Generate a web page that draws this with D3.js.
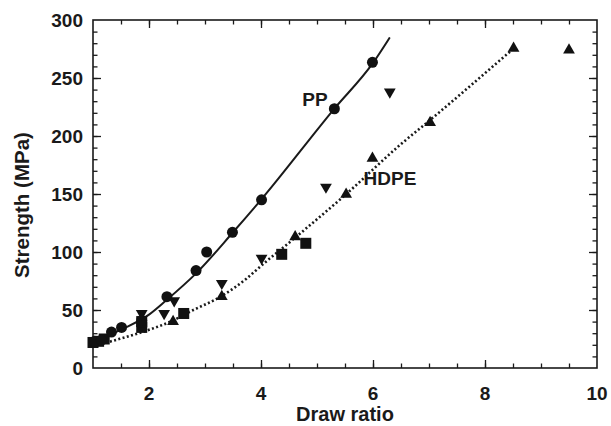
<!DOCTYPE html>
<html>
<head>
<meta charset="utf-8">
<script src="https://cdn.jsdelivr.net/npm/d3@7"></script>
<style>
  body { margin: 0; background: #fff; }
  text { font-family: "Liberation Sans", Arial, sans-serif; font-weight: bold; fill: #1a1a1a; }
</style>
</head>
<body>
<svg id="chart" width="611" height="426"></svg>
<script>
// measured points
var ppCircles = [[1.03, 23], [1.15, 24], [1.33, 31], [1.51, 35], [1.87, 41], [2.32, 61.5],
    [2.84, 84], [3.03, 100], [3.49, 117], [4.01, 145], [5.31, 223.5], [5.99, 263.5]];
var squares = [[1.0, 22], [1.1, 23], [1.2, 25], [1.87, 35], [1.87, 40], [2.62, 47],
    [4.37, 98], [4.80, 107.5]];
var trianglesDown = [[1.87, 47], [2.27, 47], [2.45, 58], [3.30, 73], [4.01, 94.6],
    [5.16, 156], [6.30, 238]];
var trianglesUp = [[2.43, 40], [3.30, 61.5], [4.61, 113], [5.52, 149.7], [5.99, 180.7],
    [7.02, 211.5], [8.51, 275.6], [9.5, 274]];

// fitted curves
var ppCurve = [[1.0, 22], [1.5, 33], [2.0, 46], [2.3, 58], [2.85, 82], [3.5, 117],
    [4.0, 145], [5.3, 223], [6.0, 263], [6.3, 285]];
var hdpeCurve = [[1.0, 18.5], [1.3, 22.7], [1.9, 31.3], [2.43, 41], [2.73, 48.5], [3.33, 63],
    [3.74, 77], [4.0, 88], [4.6, 112], [5.5, 149], [6.5, 193], [7.0, 213], [8.5, 275]];

var xTickLabels = [2, 4, 6, 8, 10];
var yTickLabels = [0, 50, 100, 150, 200, 250, 300];

// plot box (window.top is reserved, so no "top" here)
var plotL = 93, plotT = 20, plotR = 597, plotB = 368;

var svg = d3.select("#chart");
var x = d3.scaleLinear().domain([1, 10]).range([plotL, plotR]);
var y = d3.scaleLinear().domain([0, 300]).range([plotB, plotT]);

var xMinor = d3.range(1.5, 10, 0.5);
var yMinor = d3.range(10, 300, 10);

function tickAxis(axis, transform, vals, size) {
    var g = svg.append("g").attr("transform", transform)
        .call(axis.tickValues(vals).tickSize(size).tickFormat(""));
    g.select(".domain").remove();
    g.selectAll("line").attr("stroke", "#1a1a1a").attr("stroke-width", 1.3);
    return g;
}

// minor + major ticks on all sides, pointing in
tickAxis(d3.axisBottom(x), "translate(0," + plotB + ")", xMinor, -4.5);
tickAxis(d3.axisBottom(x), "translate(0," + plotB + ")", [2, 4, 6, 8], -8);
tickAxis(d3.axisTop(x), "translate(0," + plotT + ")", xMinor, -4.5);
tickAxis(d3.axisTop(x), "translate(0," + plotT + ")", [2, 4, 6, 8], -8);
tickAxis(d3.axisLeft(y), "translate(" + plotL + ",0)", yMinor, -4.5);
tickAxis(d3.axisLeft(y), "translate(" + plotL + ",0)", [50, 100, 150, 200, 250], -8);
tickAxis(d3.axisRight(y), "translate(" + plotR + ",0)", yMinor, -4.5);
tickAxis(d3.axisRight(y), "translate(" + plotR + ",0)", [50, 100, 150, 200, 250], -8);

// tick labels
svg.append("g").selectAll("text").data(xTickLabels).enter().append("text")
    .attr("x", function(d) { return x(d); })
    .attr("y", 400)
    .attr("text-anchor", "middle")
    .style("font-size", "19px")
    .text(function(d) { return d; });

svg.append("g").selectAll("text").data(yTickLabels).enter().append("text")
    .attr("x", 83)
    .attr("y", function(d) { return y(d) + 7; })
    .attr("text-anchor", "end")
    .style("font-size", "19px")
    .text(function(d) { return d; });

// frame
svg.append("rect")
    .attr("x", plotL).attr("y", plotT)
    .attr("width", plotR - plotL).attr("height", plotB - plotT)
    .attr("fill", "none").attr("stroke", "#1a1a1a").attr("stroke-width", 1.6);

// curves
var line = d3.line()
    .x(function(d) { return x(d[0]); })
    .y(function(d) { return y(d[1]); })
    .curve(d3.curveMonotoneX);

svg.append("path").datum(ppCurve)
    .attr("d", line).attr("fill", "none")
    .attr("stroke", "#1a1a1a").attr("stroke-width", 2);

svg.append("path").datum(hdpeCurve)
    .attr("d", line).attr("fill", "none")
    .attr("stroke", "#1a1a1a").attr("stroke-width", 2.6)
    .attr("stroke-dasharray", "2,2.4");

// markers
var mk = "#111";
svg.append("g").selectAll("rect").data(squares).enter().append("rect")
    .attr("x", function(d) { return x(d[0]) - 5.5; })
    .attr("y", function(d) { return y(d[1]) - 5.5; })
    .attr("width", 11).attr("height", 11)
    .attr("fill", mk);

svg.append("g").selectAll("circle").data(ppCircles).enter().append("circle")
    .attr("cx", function(d) { return x(d[0]); })
    .attr("cy", function(d) { return y(d[1]); })
    .attr("r", 5.5)
    .attr("fill", mk);

var triUp = d3.symbol().type(d3.symbolTriangle).size(60);
svg.append("g").selectAll("path").data(trianglesUp).enter().append("path")
    .attr("d", triUp)
    .attr("transform", function(d) { return "translate(" + x(d[0]) + "," + y(d[1]) + ")"; })
    .attr("fill", mk);

svg.append("g").selectAll("path").data(trianglesDown).enter().append("path")
    .attr("d", triUp)
    .attr("transform", function(d) { return "translate(" + x(d[0]) + "," + y(d[1]) + ") rotate(180)"; })
    .attr("fill", mk);

// series labels
svg.append("text").attr("x", 315).attr("y", 106).attr("text-anchor", "middle")
    .style("font-size", "19px").text("PP");
svg.append("text").attr("x", 390).attr("y", 185).attr("text-anchor", "middle")
    .style("font-size", "19px").text("HDPE");

// axis titles
svg.append("text").attr("x", 345).attr("y", 421).attr("text-anchor", "middle")
    .style("font-size", "20px").text("Draw ratio");
svg.append("text")
    .attr("transform", "translate(29,205) rotate(-90)")
    .attr("text-anchor", "middle")
    .style("font-size", "20.5px").text("Strength (MPa)");
</script>
</body>
</html>
